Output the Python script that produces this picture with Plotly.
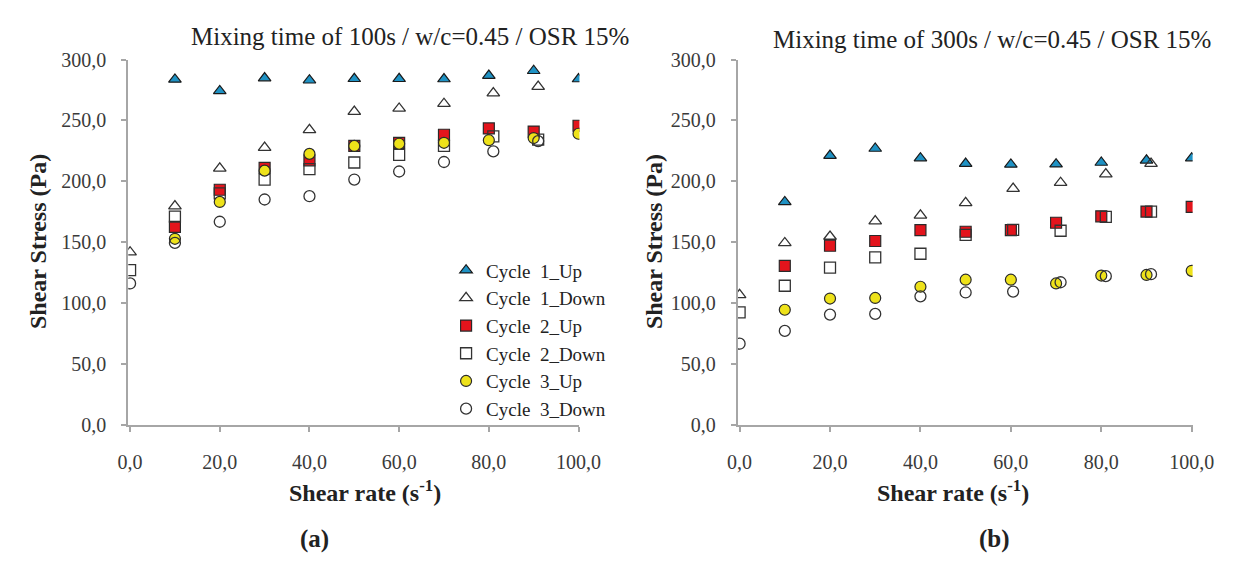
import plotly.graph_objects as go

# ---------------- data ----------------
series_names = ["Cycle\u00a0 1_Up", "Cycle\u00a0 1_Down", "Cycle\u00a0 2_Up",
                "Cycle\u00a0 2_Down", "Cycle\u00a0 3_Up", "Cycle\u00a0 3_Down"]

x_up = [10, 20, 30, 40, 50, 60, 70, 80, 90, 100]
x_down_a = [0, 10, 20, 30, 40, 50, 60, 70, 81, 91]
x_down_b = [0, 10, 20, 30, 40, 50, 60.5, 71, 81, 91]

# (a) Mixing time of 100 s
a_c1_up = [283.7, 274.2, 284.8, 283.0, 284.2, 284.2, 284.0, 286.8, 290.8, 284.0]
a_c1_down = [141.7, 179.5, 210.6, 227.7, 242.2, 257.2, 259.8, 263.7, 272.4, 277.7]
a_c2_up = [162.5, 193.0, 211.0, 217.2, 229.0, 231.6, 238.2, 243.4, 240.8, 245.6]
a_c2_down = [127.0, 171.0, 190.0, 201.4, 210.0, 215.4, 221.7, 229.0, 236.9, 234.2]
a_c3_up = [152.7, 183.0, 208.7, 222.5, 229.0, 230.8, 231.6, 233.7, 235.5, 239.0]
a_c3_down = [116.0, 149.3, 166.7, 185.0, 187.7, 201.4, 208.0, 215.8, 224.5, 233.0]

# (b) Mixing time of 300 s
b_c1_up = [183.0, 221.1, 226.9, 219.0, 214.5, 213.8, 214.0, 215.4, 217.2, 219.0]
b_c1_down = [106.7, 149.3, 154.6, 167.2, 172.0, 182.2, 194.0, 198.8, 205.9, 214.5]
b_c2_up = [130.4, 147.0, 150.9, 159.8, 158.5, 159.8, 165.9, 171.2, 175.1, 179.0]
b_c2_down = [92.3, 114.1, 129.0, 137.5, 140.4, 155.9, 160.0, 159.3, 170.7, 175.0]
b_c3_up = [94.4, 103.6, 104.1, 113.3, 119.1, 119.1, 116.0, 122.5, 123.0, 126.4]
b_c3_down = [66.5, 77.0, 90.4, 91.0, 105.4, 108.6, 109.3, 117.0, 122.0, 123.6]

titles = ["Mixing time of 100s / w/c=0.45 / OSR 15%",
          "Mixing time of 300s / w/c=0.45 / OSR 15%"]
panel_labels = ["(a)", "(b)"]

x_ticks = [0, 20, 40, 60, 80, 100]
x_ticktext = ["0,0", "20,0", "40,0", "60,0", "80,0", "100,0"]
y_ticks = [0, 50, 100, 150, 200, 250, 300]
y_ticktext = ["0,0", "50,0", "100,0", "150,0", "200,0", "250,0", "300,0"]

# ---------------- styles ----------------
W, H = 1237, 568
SERIF = "Liberation Serif, Times New Roman, serif"
styles = [
    dict(symbol="triangle-up", color="#1f92c4", line=dict(color="#1a1a1a", width=1.2)),
    dict(symbol="triangle-up-open", color="#333333", line=dict(color="#333333", width=1.3)),
    dict(symbol="square", color="#e3141c", line=dict(color="#2a2a2a", width=1.2)),
    dict(symbol="square-open", color="#333333", line=dict(color="#333333", width=1.3)),
    dict(symbol="circle", color="#eee21a", line=dict(color="#2a2a2a", width=1.2)),
    dict(symbol="circle-open", color="#333333", line=dict(color="#333333", width=1.3)),
]
sizes = [11, 11, 11, 11, 11, 11]

fig = go.Figure()

panels = [
    ("x", "y", [x_up, x_down_a, x_up, x_down_a, x_up, x_down_a],
     [a_c1_up, a_c1_down, a_c2_up, a_c2_down, a_c3_up, a_c3_down], True),
    ("x2", "y2", [x_up, x_down_b, x_up, x_down_b, x_up, x_down_b],
     [b_c1_up, b_c1_down, b_c2_up, b_c2_down, b_c3_up, b_c3_down], False),
]

for xa, ya, xs, ys, show in panels:
    for i, name in enumerate(series_names):
        st = styles[i]
        fig.add_trace(go.Scatter(
            x=xs[i], y=ys[i], mode="markers", name=name,
            xaxis=xa, yaxis=ya, showlegend=show, legendgroup=f"g{i}",
            marker=dict(symbol=st["symbol"], size=sizes[i], color=st["color"],
                        line=st["line"]),
        ))

def px_x(p):
    return p / W

def px_y(p):
    return 1 - p / H

ydom = [px_y(430.3), px_y(50.5)]
axis_common = dict(showgrid=False, zeroline=False, showline=True,
                   linecolor="#a6a6a6", linewidth=2, ticks="outside",
                   tickcolor="#a6a6a6", ticklen=5, tickwidth=1.5,
                   tickfont=dict(family=SERIF, size=20, color="#3a3a3a"))

fig.update_layout(
    width=W, height=H,
    margin=dict(l=0, r=0, t=0, b=0),
    paper_bgcolor="white", plot_bgcolor="white",
    xaxis=dict(domain=[px_x(120.5), px_x(584)], range=[-0.4, 100.2],
               tickvals=x_ticks, ticktext=x_ticktext, anchor="y",
               ticklabelstandoff=13, **axis_common),
    yaxis=dict(domain=ydom, range=[0, 300], tickvals=y_ticks, ticktext=y_ticktext,
               anchor="x", ticklabelstandoff=11, **axis_common),
    xaxis2=dict(domain=[px_x(746.7), px_x(1214)], range=[-0.4, 100.2],
                tickvals=x_ticks, ticktext=x_ticktext, anchor="y2",
                ticklabelstandoff=13, **axis_common),
    yaxis2=dict(domain=ydom, range=[0, 300], tickvals=y_ticks, ticktext=y_ticktext,
                anchor="x2", ticklabelstandoff=11, **axis_common),
    legend=dict(x=px_x(447), y=px_y(250), xanchor="left", yanchor="top",
                bgcolor="rgba(255,255,255,0)", tracegroupgap=0,
                font=dict(family=SERIF, size=19, color="#222222")),
    showlegend=True,
)

annos = []
for k, (tx, ty) in enumerate([(410, 27), (1008, 30)]):
    annos.append(dict(text=titles[k], x=px_x(tx), y=px_y(ty), xref="paper", yref="paper",
                      showarrow=False, xanchor="center", yanchor="middle",
                      font=dict(family=SERIF, size=25, color="#222222")))
for k, (tx, ty) in enumerate([(364, 499), (968, 499)]):
    annos.append(dict(text="<b>Shear rate (s<sup>-1</sup>)</b>", x=px_x(tx), y=px_y(ty),
                      xref="paper", yref="paper", showarrow=False,
                      xanchor="center", yanchor="middle",
                      font=dict(family=SERIF, size=24, color="#222222")))
for k, (tx, ty) in enumerate([(27, 240), (660, 240)]):
    annos.append(dict(text="<b>Shear Stress (Pa)</b>", x=px_x(tx), y=px_y(ty),
                      xref="paper", yref="paper", showarrow=False, textangle=-90,
                      xanchor="center", yanchor="middle",
                      font=dict(family=SERIF, size=24, color="#222222")))
for k, (tx, ty) in enumerate([(312, 549), (1010, 549)]):
    annos.append(dict(text="<b>" + panel_labels[k] + "</b>", x=px_x(tx), y=px_y(ty),
                      xref="paper", yref="paper", showarrow=False,
                      xanchor="center", yanchor="middle",
                      font=dict(family=SERIF, size=25, color="#222222")))
fig.update_layout(annotations=annos)

fig.write_html("out.html")
